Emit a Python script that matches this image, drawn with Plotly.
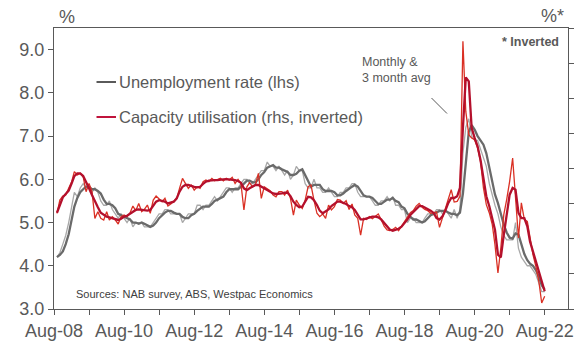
import pandas as pd
import plotly.graph_objects as go

# ---------------- data (monthly, Sep-08 .. Aug-22) ----------------
months = pd.date_range("2008-09-01", periods=168, freq="MS")

unemp_monthly = [
    4.2, 4.3, 4.5, 4.7,
    5.0, 5.4, 5.7, 5.6, 5.8, 5.9, 5.8, 5.8, 5.7, 5.8, 5.7, 5.5,
    5.4, 5.4, 5.5, 5.3, 5.2, 5.1, 5.2, 5.1, 5.0, 5.1, 4.9, 5.0,
    5.0, 5.0, 4.9, 4.9, 4.9, 5.0, 5.1, 5.2, 5.2, 5.3, 5.3, 5.2,
    5.2, 5.2, 5.2, 5.0, 5.1, 5.2, 5.2, 5.2, 5.4, 5.4, 5.3, 5.4,
    5.4, 5.5, 5.6, 5.5, 5.6, 5.7, 5.8, 5.8, 5.7, 5.8, 5.8, 5.9,
    6.0, 6.0, 5.9, 5.9, 6.0, 6.1, 6.2, 6.2, 6.4, 6.3, 6.3, 6.2,
    6.3, 6.2, 6.1, 6.2, 6.0, 6.1, 6.3, 6.2, 6.2, 5.9, 5.8, 5.8,
    6.0, 5.8, 5.8, 5.7, 5.7, 5.8, 5.7, 5.6, 5.6, 5.7, 5.7, 5.8,
    5.8, 5.9, 5.9, 5.7, 5.6, 5.6, 5.6, 5.6, 5.5, 5.4, 5.4, 5.5,
    5.5, 5.6, 5.5, 5.6, 5.4, 5.4, 5.3, 5.3, 5.0, 5.1, 5.1, 5.0,
    5.0, 5.0, 5.1, 5.2, 5.2, 5.2, 5.3, 5.3, 5.2, 5.3, 5.2, 5.1,
    5.3, 5.1, 5.3, 6.6, 7.2, 7.4, 7.0, 6.9, 6.9, 6.7, 6.5, 6.3,
    5.9, 5.6, 5.4, 5.2, 4.9, 4.7, 4.6, 4.6, 4.6, 5.0, 4.4, 4.2,
    4.1, 4.0, 4.0, 3.9, 3.8, 3.6, 3.4, 3.4,
]

unemp_3m = [
    4.20, 4.25, 4.33, 4.50,
    4.73, 5.03, 5.37, 5.57, 5.70, 5.77, 5.83, 5.83, 5.77, 5.77, 5.73, 5.67,
    5.53, 5.43, 5.43, 5.40, 5.33, 5.20, 5.17, 5.13, 5.10, 5.07, 5.00, 5.00,
    4.97, 5.00, 4.97, 4.93, 4.90, 4.93, 5.00, 5.10, 5.17, 5.23, 5.27, 5.27,
    5.23, 5.20, 5.20, 5.13, 5.10, 5.10, 5.17, 5.20, 5.27, 5.33, 5.37, 5.37,
    5.37, 5.43, 5.50, 5.53, 5.57, 5.60, 5.70, 5.77, 5.77, 5.77, 5.77, 5.83,
    5.90, 5.97, 5.97, 5.93, 5.93, 6.00, 6.10, 6.17, 6.27, 6.30, 6.33, 6.27,
    6.27, 6.23, 6.20, 6.17, 6.10, 6.10, 6.13, 6.20, 6.23, 6.10, 5.97, 5.83,
    5.87, 5.87, 5.87, 5.77, 5.73, 5.73, 5.73, 5.70, 5.63, 5.63, 5.67, 5.73,
    5.77, 5.83, 5.87, 5.83, 5.73, 5.63, 5.60, 5.60, 5.57, 5.50, 5.43, 5.43,
    5.47, 5.53, 5.53, 5.57, 5.50, 5.47, 5.37, 5.33, 5.20, 5.13, 5.07, 5.07,
    5.03, 5.00, 5.03, 5.10, 5.17, 5.20, 5.23, 5.27, 5.27, 5.27, 5.23, 5.20,
    5.20, 5.17, 5.23, 5.67, 6.37, 7.10, 7.25, 7.15, 7.00, 6.90, 6.80, 6.60,
    6.25, 5.90, 5.65, 5.45, 5.20, 4.95, 4.77, 4.65, 4.63, 4.75, 4.72, 4.50,
    4.27, 4.13, 4.05, 4.00, 3.90, 3.75, 3.55, 3.45,
]

capu_monthly = [
    80.55, 79.80, 79.57, 79.51,
    79.13, 78.75, 78.18, 78.37, 78.28, 78.47, 79.32, 78.85, 79.32, 80.84, 80.46, 80.84,
    80.93, 80.46, 80.93, 80.74, 80.93, 81.16, 80.74, 80.65, 80.74, 80.55, 80.14, 80.40,
    79.99, 80.46, 80.33, 80.08, 80.55, 79.80, 79.57, 79.76, 79.89, 79.70, 80.14, 80.02,
    79.83, 79.70, 79.13, 78.56, 78.85, 79.13, 78.94, 79.23, 79.04, 79.13, 78.75, 78.66,
    78.75, 78.56, 78.70, 78.62, 78.56, 78.70, 78.56, 78.66, 78.50, 78.85, 78.62, 78.85,
    80.36, 79.04, 78.81, 79.04, 78.94, 78.28, 79.70, 79.04, 79.13, 79.26, 79.51, 79.61,
    79.32, 79.32, 79.51, 79.23, 79.70, 80.65, 79.80, 80.08, 80.27, 79.80, 79.04, 78.94,
    79.80, 80.55, 80.74, 80.59, 80.84, 80.08, 80.36, 80.17, 79.76, 79.80, 79.99, 79.83,
    80.33, 80.02, 80.65, 80.84, 81.79, 80.84, 80.90, 80.74, 80.86, 80.71, 80.59, 80.90,
    81.28, 81.50, 81.54, 81.47, 81.35, 81.54, 81.28, 80.97, 80.78, 80.52, 80.40, 80.14,
    79.99, 80.21, 80.33, 80.40, 80.55, 80.53, 80.48, 81.35, 80.78, 80.34, 79.68, 79.21,
    79.91, 79.87, 79.58, 70.76, 74.75, 76.07, 76.26, 76.36, 76.83, 77.59, 79.11, 80.06,
    80.53, 81.20, 82.34, 83.95, 82.53, 80.63, 79.77, 78.73, 77.40, 79.49, 81.96, 79.96,
    80.91, 81.01, 81.96, 82.91, 83.57, 84.42, 85.66, 85.28,
]

capu_3m = [
    80.52, 80.08, 79.64, 79.45,
    79.26, 78.85, 78.43, 78.28, 78.28, 78.43, 78.75, 79.13, 79.51, 79.89, 80.21, 80.52,
    80.65, 80.74, 80.78, 80.84, 80.90, 80.93, 80.86, 80.74, 80.69, 80.59, 80.46, 80.36,
    80.33, 80.36, 80.40, 80.40, 80.36, 80.08, 79.89, 79.80, 79.83, 79.89, 79.99, 79.95,
    79.89, 79.70, 79.32, 79.04, 78.94, 78.94, 79.00, 79.04, 79.07, 79.04, 78.88, 78.75,
    78.69, 78.66, 78.66, 78.66, 78.62, 78.62, 78.60, 78.62, 78.62, 78.66, 78.71, 78.81,
    79.13, 79.23, 79.13, 79.04, 78.94, 78.94, 79.04, 79.13, 79.23, 79.32, 79.42, 79.45,
    79.45, 79.42, 79.38, 79.38, 79.57, 79.89, 80.08, 80.21, 80.17, 79.89, 79.61, 79.64,
    79.80, 80.08, 80.40, 80.55, 80.46, 80.33, 80.14, 79.99, 79.89, 79.89, 79.95, 80.02,
    80.14, 80.21, 80.36, 80.65, 80.90, 80.90, 80.84, 80.78, 80.74, 80.74, 80.78, 80.90,
    81.09, 81.31, 81.47, 81.54, 81.50, 81.43, 81.31, 81.12, 80.90, 80.65, 80.46, 80.27,
    80.14, 80.14, 80.21, 80.33, 80.40, 80.53, 80.82, 80.91, 80.72, 80.40, 79.96, 79.68,
    79.68, 79.58, 79.11, 75.69, 72.81, 73.04, 75.69, 76.26, 76.74, 77.50, 78.64, 79.58,
    80.15, 80.82, 81.48, 82.91, 83.06, 81.77, 80.63, 79.49, 79.11, 79.21, 80.53, 80.82,
    80.82, 81.29, 82.15, 82.72, 83.29, 83.86, 84.42, 84.99,
]

tick_dates = pd.date_range("2008-08-01", "2022-08-01", freq="12MS")
tick_labels = ["Aug-08", "", "Aug-10", "", "Aug-12", "", "Aug-14", "",
               "Aug-16", "", "Aug-18", "", "Aug-20", "", "Aug-22"]
left_ticks = [3, 4, 5, 6, 7, 8, 9]
right_ticks = [70, 72, 74, 76, 78, 80, 82, 84, 86]

# ---------------- styling ----------------
W, H = 585, 345
L, R, T, B = 54, 17, 28, 36
PW, PH = W - L - R, H - T - B
FONT = "Liberation Sans, Arial, sans-serif"
AX = "#595959"
TXT = "#595959"

def px(x):
    return (x - L) / PW

def py(y):
    return (H - B - y) / PH

fig = go.Figure()
fig.add_trace(go.Scatter(x=months, y=unemp_monthly, mode="lines",
                         line=dict(color="#A8A8A8", width=1.3), yaxis="y"))
fig.add_trace(go.Scatter(x=months, y=unemp_3m, mode="lines",
                         line=dict(color="#6A6A6A", width=2.3), yaxis="y"))
fig.add_trace(go.Scatter(x=months, y=capu_monthly, mode="lines",
                         line=dict(color="#DA3024", width=1.3), yaxis="y2"))
fig.add_trace(go.Scatter(x=months, y=capu_3m, mode="lines",
                         line=dict(color="#B4102C", width=2.3), yaxis="y2"))

fig.update_layout(
    width=W, height=H,
    margin=dict(l=L, r=R, t=T, b=B, pad=0),
    paper_bgcolor="white", plot_bgcolor="white",
    showlegend=False,
    font=dict(family=FONT, color=TXT, size=18),
    xaxis=dict(
        type="date", range=["2008-08-01", "2023-04-01"],
        tickvals=list(tick_dates), ticktext=tick_labels,
        ticks="outside", ticklen=5, tickcolor=AX, tickwidth=1,
        showline=True, linecolor=AX, linewidth=1, mirror=True,
        showgrid=False, zeroline=False,
        tickfont=dict(size=18, color=TXT, family=FONT),
        automargin=False,
    ),
    yaxis=dict(
        range=[3, 9.5], tickvals=left_ticks, tickformat=".1f",
        ticks="outside", ticklen=5, tickcolor=AX, tickwidth=1,
        showline=True, linecolor=AX, linewidth=1,
        showgrid=False, zeroline=False,
        tickfont=dict(size=18, color=TXT, family=FONT),
        automargin=False,
    ),
    yaxis2=dict(
        range=[86, 70], tickvals=right_ticks,
        overlaying="y", side="right", anchor="x",
        ticks="outside", ticklen=5, tickcolor=AX, tickwidth=1,
        showline=True, linecolor=AX, linewidth=1,
        showgrid=False, zeroline=False,
        tickfont=dict(size=18, color=TXT, family=FONT),
        ticklabelstandoff=10,
        automargin=False,
    ),
)

# legend (custom)
fig.add_shape(type="line", xref="paper", yref="paper",
              x0=px(96.5), x1=px(116), y0=py(82), y1=py(82),
              line=dict(color="#5A5A5A", width=2))
fig.add_shape(type="line", xref="paper", yref="paper",
              x0=px(96.5), x1=px(116), y0=py(117), y1=py(117),
              line=dict(color="#C0143C", width=2))
fig.add_annotation(text="Unemployment rate (lhs)", xref="paper", yref="paper",
                   x=px(117), y=py(82), xanchor="left", yanchor="middle",
                   showarrow=False, font=dict(size=16.5, color=TXT, family=FONT))
fig.add_annotation(text="Capacity utilisation (rhs, inverted)", xref="paper", yref="paper",
                   x=px(117), y=py(117), xanchor="left", yanchor="middle",
                   showarrow=False, font=dict(size=16.5, color=TXT, family=FONT))

# axis unit labels
fig.add_annotation(text="%", xref="paper", yref="paper", x=px(57), y=py(17),
                   xanchor="left", yanchor="middle", showarrow=False,
                   font=dict(size=18, color=TXT, family=FONT))
fig.add_annotation(text="%*", xref="paper", yref="paper", x=px(566), y=py(16),
                   xanchor="right", yanchor="middle", showarrow=False,
                   font=dict(size=18, color=TXT, family=FONT))

# notes
fig.add_annotation(text="<b>* Inverted</b>", xref="paper", yref="paper",
                   x=px(561), y=py(42), xanchor="right", yanchor="middle",
                   showarrow=False, font=dict(size=12.5, color=TXT, family=FONT))
fig.add_annotation(text="Monthly &amp;<br>3 month avg", xref="paper", yref="paper",
                   x=px(360), y=py(70), xanchor="left", yanchor="middle",
                   align="left", showarrow=False,
                   font=dict(size=12.5, color=TXT, family=FONT))
fig.add_shape(type="line", xref="paper", yref="paper",
              x0=px(431.5), y0=py(98), x1=px(447), y1=py(113.5),
              line=dict(color="#595959", width=1))
fig.add_annotation(text="Sources: NAB survey, ABS, Westpac Economics",
                   xref="paper", yref="paper", x=px(73.5), y=py(294),
                   xanchor="left", yanchor="middle", showarrow=False,
                   font=dict(size=11, color="#404040", family=FONT))

fig.write_html("out.html")
